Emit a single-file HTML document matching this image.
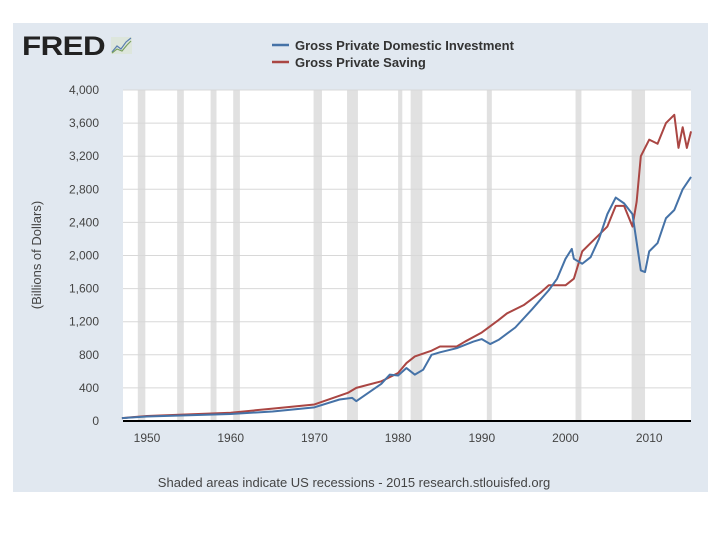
<!DOCTYPE html>
<html><head><meta charset="utf-8"><style>
body{margin:0;width:720px;height:540px;background:#fff;overflow:hidden;font-family:"Liberation Sans",sans-serif}
</style></head><body>
<svg width="720" height="540">
<rect x="13" y="23" width="695" height="469" fill="#e1e8f0"/>
<g>
<text x="22" y="55" font-size="27" font-weight="bold" fill="#222" letter-spacing="-0.5" textLength="83" lengthAdjust="spacingAndGlyphs" font-family="Liberation Sans,sans-serif">FRED</text>
<rect x="111" y="37" width="21" height="17" fill="#dde6dc"/>
<polyline points="112,52 117,46 121,49 126,42 131,38" fill="none" stroke="#5a7fb0" stroke-width="1.2"/>
<polyline points="112,53 117,49 122,51 127,45 131,41" fill="none" stroke="#7aa060" stroke-width="1.2"/>
</g>
<g>
<line x1="272" y1="45" x2="289" y2="45" stroke="#4572a7" stroke-width="2.5"/>
<text x="295" y="50" font-size="13" font-weight="bold" fill="#333">Gross Private Domestic Investment</text>
<line x1="272" y1="62" x2="289" y2="62" stroke="#aa4643" stroke-width="2.5"/>
<text x="295" y="67" font-size="13" font-weight="bold" fill="#333">Gross Private Saving</text>
</g>
<rect x="123" y="90" width="568" height="331" fill="#fff"/>
<g id="rec"></g><g id="grid"></g><g id="lines"></g><g id="axes"></g>
<text transform="translate(41,255) rotate(-90)" text-anchor="middle" font-size="13" fill="#444">(Billions of Dollars)</text>
<text x="354" y="487" text-anchor="middle" font-size="13" fill="#444">Shaded areas indicate US recessions - 2015 research.stlouisfed.org</text>
</svg>
<script>
const yTicks=[0,400,800,1200,1600,2000,2400,2800,3200,3600,4000];
const xTicks=[1950,1960,1970,1980,1990,2000,2010];
const recessions=[[1948.9,1949.8],[1953.6,1954.4],[1957.6,1958.3],[1960.3,1961.1],[1969.9,1970.9],[1973.9,1975.2],[1980.0,1980.5],[1981.5,1982.9],[1990.6,1991.2],[2001.2,2001.9],[2007.9,2009.5]];
const invYears=[1947,1950,1955,1960,1965,1970,1973,1974.5,1975,1978,1979,1980,1981,1982,1983,1984,1985,1987,1989,1990,1991,1992,1994,1996,1998,1999,2000,2000.75,2001,2002,2003,2004,2005,2006,2007,2008,2009,2009.5,2010,2011,2012,2013,2014,2015];
const invValues=[35,55,70,85,115,165,260,280,240,450,560,550,640,560,620,800,830,880,960,990,930,980,1130,1350,1580,1720,1960,2080,1960,1900,1980,2200,2500,2700,2630,2500,1820,1800,2050,2150,2450,2550,2800,2950];
const savYears=[1947,1950,1955,1960,1965,1970,1974,1975,1978,1980,1981,1982,1984,1985,1987,1988,1990,1992,1993,1995,1997,1998,2000,2001,2002,2003,2005,2006,2007,2008,2008.5,2009,2010,2011,2012,2013,2013.5,2014,2014.5,2015];
const savValues=[35,60,80,100,150,200,340,400,480,580,700,780,850,900,900,960,1070,1220,1300,1400,1550,1640,1640,1720,2050,2150,2350,2600,2600,2350,2650,3200,3400,3350,3600,3700,3300,3550,3300,3500];
const X=y=>147+(y-1950)*8.37, Y=v=>421-v*331/4000;
const NS='http://www.w3.org/2000/svg';
function mk(p,t,a){const e=document.createElementNS(NS,t);for(const k in a)e.setAttribute(k,a[k]);document.getElementById(p).appendChild(e);return e;}
recessions.forEach(r=>{const e=mk('rec','rect',{x:X(r[0]),y:90,width:X(r[1])-X(r[0]),height:331,fill:'#e1e1e1'});

});
yTicks.forEach(v=>{if(v>0){const g=mk('grid','line',{x1:123,x2:691,y1:Y(v),y2:Y(v),stroke:'#d8d8d8','stroke-width':1});

}
const t=mk('axes','text',{x:99,y:Y(v)+4,'text-anchor':'end','font-size':12,fill:'#444'});t.textContent=v.toLocaleString('en-US');

});
xTicks.forEach(y=>{const t=mk('axes','text',{x:X(y),y:442,'text-anchor':'middle','font-size':12,fill:'#444'});t.textContent=y;

});
const ax=mk('axes','line',{x1:123,x2:691,y1:421,y2:421,stroke:'#000','stroke-width':2});


function line(xs,vs,c,n){const p=mk('lines','polyline',{points:xs.map((y,i)=>X(y)+','+Y(vs[i])).join(' '),fill:'none',stroke:c,'stroke-width':2,'stroke-linejoin':'round'});

}
line(savYears,savValues,'#aa4643','saving-line');
line(invYears,invValues,'#4572a7','investment-line');
</script>
</body></html>
